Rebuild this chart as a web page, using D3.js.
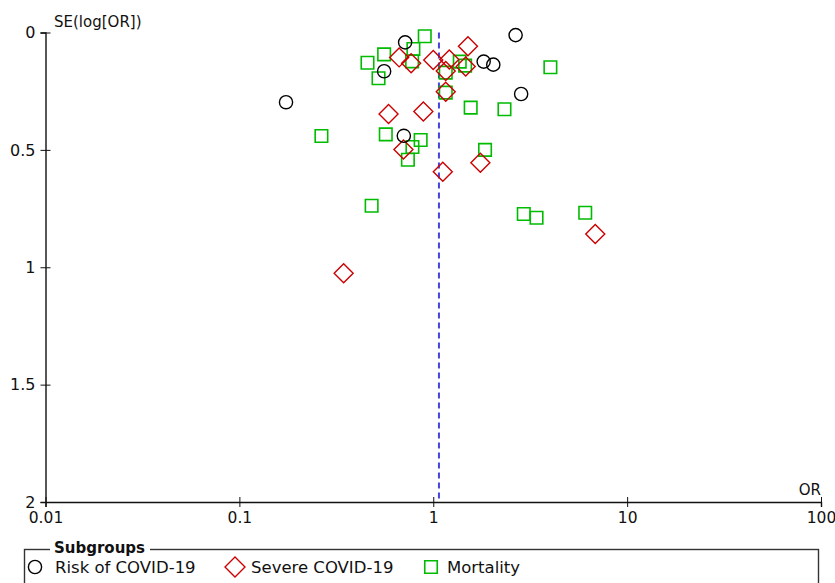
<!DOCTYPE html>
<html>
<head>
<meta charset="utf-8">
<script src="https://cdn.jsdelivr.net/npm/d3@7"></script>
<style>
  body { margin: 0; background: #fff; }
  text { font-family: "DejaVu Sans", sans-serif; }
</style>
</head>
<body>
<script>
/* ------------------------------- Data ------------------------------- */
// [OR, SE(log OR)]
const riskCovid = [[0.716, 0.042], [2.66, 0.011], [0.558, 0.165], [1.82, 0.124], [2.04, 0.137],
  [0.174, 0.297], [2.84, 0.262], [0.705, 0.440]];
const severeCovid = [[1.51, 0.059], [0.667, 0.106], [0.769, 0.131], [1.0, 0.117], [1.21, 0.115],
  [1.16, 0.164], [1.47, 0.145], [1.16, 0.252], [0.588, 0.347], [0.889, 0.337], [0.702, 0.498],
  [1.75, 0.555], [1.12, 0.593], [0.345, 1.026], [6.85, 0.858]];
const mortality = [[0.904, 0.016], [0.790, 0.070], [0.558, 0.093], [0.458, 0.129], [0.778, 0.123],
  [0.522, 0.195], [1.16, 0.171], [1.37, 0.124], [1.46, 0.141], [1.16, 0.256], [4.02, 0.148],
  [1.56, 0.320], [2.33, 0.327], [0.265, 0.441], [0.569, 0.434], [0.861, 0.458], [0.781, 0.488],
  [0.740, 0.542], [1.85, 0.500], [0.481, 0.738], [2.93, 0.773], [3.41, 0.789], [6.08, 0.768]];
const pooledOR = 1.07;
const xTicks = [0.01, 0.1, 1, 10, 100];
const yTicks = [0, 0.5, 1, 1.5, 2];
const groups = ["Risk of COVID-19", "Severe COVID-19", "Mortality"];

/* ------------------------------ Layout ------------------------------ */
const width = 835, height = 583;
const plotLeft = 45.5, plotRight = 821, plotTop = 32.5, plotBottom = 502;
const colors = { circle: "#000", diamond: "#cc0000", square: "#00bb00" };

const svg = d3.select("body").append("svg").attr("width", width).attr("height", height);

const x = d3.scaleLog().domain([0.01, 100]).range([plotLeft, plotRight]);
const y = d3.scaleLinear().domain([0, 2]).range([plotTop, plotBottom]);

/* ------------------------------- Axes ------------------------------- */
const xAxis = svg.append("g")
  .attr("transform", `translate(0,${plotBottom})`)
  .call(d3.axisBottom(x).tickValues(xTicks).tickFormat(d3.format("~g")).tickSizeOuter(0).tickSize(5).tickPadding(5));
xAxis.select(".domain").attr("stroke", "#111").attr("stroke-width", 1.4);
xAxis.selectAll(".tick line").attr("y1", -5).attr("stroke", "#111");
xAxis.selectAll(".tick text").attr("font-size", "15.5px").attr("fill", "#111")
  .attr("font-family", "DejaVu Sans");

const yAxis = svg.append("g")
  .attr("transform", `translate(${plotLeft},0)`)
  .call(d3.axisLeft(y).tickValues(yTicks).tickFormat(d3.format("~g")).tickSizeOuter(0).tickSize(5).tickPadding(5));
yAxis.select(".domain").attr("stroke", "#111").attr("stroke-width", 1.4);
yAxis.selectAll(".tick line").attr("x1", 5).attr("stroke", "#111");
yAxis.selectAll(".tick text").attr("font-size", "16px").attr("fill", "#111")
  .attr("font-family", "DejaVu Sans");

svg.append("text").attr("x", 54).attr("y", 27).attr("font-size", "15px").attr("fill", "#111")
  .text("SE(log[OR])");
svg.append("text").attr("x", plotRight).attr("y", 495).attr("text-anchor", "end")
  .attr("font-size", "15px").attr("fill", "#111").text("OR");

/* ---------------------------- Pooled line ---------------------------- */
svg.append("line")
  .attr("x1", x(pooledOR)).attr("x2", x(pooledOR))
  .attr("y1", y(0)).attr("y2", y(2))
  .attr("stroke", "#4545dd").attr("stroke-width", 2).attr("stroke-dasharray", "6,4");

/* ------------------------------ Markers ------------------------------ */
const circleSym = d3.symbol().type(d3.symbolCircle).size(Math.PI * 6.6 * 6.6);
const squareSym = d3.symbol().type(d3.symbolSquare).size(12.5 * 12.5);
const diamondPath = "M0,-9.5L9.5,0L0,9.5L-9.5,0Z";

svg.append("g").selectAll("path").data(mortality).enter().append("path")
  .attr("transform", d => `translate(${x(d[0])},${y(d[1])})`)
  .attr("d", squareSym).attr("fill", "none").attr("stroke", colors.square).attr("stroke-width", 1.6);

svg.append("g").selectAll("path").data(severeCovid).enter().append("path")
  .attr("transform", d => `translate(${x(d[0])},${y(d[1])})`)
  .attr("d", diamondPath).attr("fill", "none").attr("stroke", colors.diamond).attr("stroke-width", 1.4);

svg.append("g").selectAll("path").data(riskCovid).enter().append("path")
  .attr("transform", d => `translate(${x(d[0])},${y(d[1])})`)
  .attr("d", circleSym).attr("fill", "none").attr("stroke", colors.circle).attr("stroke-width", 1.4);

/* ------------------------------- Legend ------------------------------- */
const legend = svg.append("g");
legend.append("rect").attr("x", 24.5).attr("y", 549.5).attr("width", 794).attr("height", 60)
  .attr("fill", "none").attr("stroke", "#333").attr("stroke-width", 1.4);
legend.append("rect").attr("x", 50).attr("y", 540).attr("width", 100).attr("height", 15).attr("fill", "#fff");
legend.append("text").attr("x", 54).attr("y", 553).attr("font-size", "15px").attr("font-weight", "bold")
  .attr("fill", "#111").text("Subgroups");

const itemX = [35, 235, 431];
const itemSym = [
  g => g.append("path").attr("d", circleSym).attr("fill", "none").attr("stroke", colors.circle).attr("stroke-width", 1.4),
  g => g.append("path").attr("d", "M0,-10L10,0L0,10L-10,0Z").attr("fill", "none").attr("stroke", colors.diamond).attr("stroke-width", 1.4),
  g => g.append("path").attr("d", squareSym).attr("fill", "none").attr("stroke", colors.square).attr("stroke-width", 1.6)
];
groups.forEach((name, i) => {
  const g = legend.append("g").attr("transform", `translate(${itemX[i]},567)`);
  itemSym[i](g);
  g.append("text").attr("x", i === 0 ? 20 : 16).attr("y", 6).attr("font-size", "16.5px")
    .attr("fill", "#111").text(name);
});
</script>
</body>
</html>
